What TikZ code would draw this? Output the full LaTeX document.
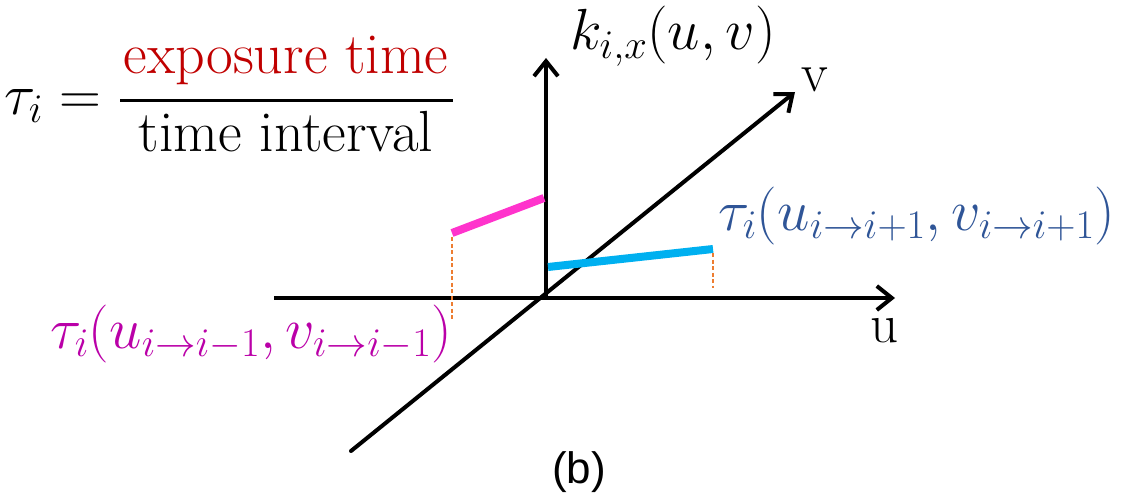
\RequirePackage{fix-cm}
\documentclass[tikz,border=0pt]{standalone}
\usepackage{fontspec}
\newfontfamily\labelsans{Liberation Sans}
\usetikzlibrary{arrows.meta}
\definecolor{magtext}{RGB}{186,0,168}
\definecolor{magline}{RGB}{255,51,204}
\definecolor{cyanline}{RGB}{0,176,240}
\definecolor{bluetext}{RGB}{47,85,151}
\definecolor{redtext}{RGB}{192,0,0}
\definecolor{orangedash}{RGB}{237,125,49}
\begin{document}
\begin{tikzpicture}[x=1pt,y=-1pt,
  axisline/.style={line width=4pt,-{Straight Barb[length=15pt,width=24pt]}},
  seg/.style={line width=8pt,line cap=butt},
  guide/.style={orangedash,line width=1.8pt,dash pattern=on 4pt off 2.5pt},
  bigtext/.style={inner sep=0pt,font=\fontsize{58}{66}\selectfont},
  axtext/.style={inner sep=0pt,font=\fontsize{55}{62}\selectfont},
  mathlab/.style={inner sep=0pt,font=\fontsize{58}{66}\selectfont}]
\useasboundingbox (0,0) rectangle (1125,495);
% coordinates
\coordinate (o) at (546,298);
\coordinate (hstart) at (274,298);
\coordinate (htip) at (895,298);
\coordinate (vtip) at (546,58);
\coordinate (dstart) at (351,451);
\coordinate (dtip) at (795,92);
% axes
\draw[axisline] (hstart) -- (htip);
\draw[axisline] (o) -- (vtip);
\draw[axisline,line cap=round] (dstart) -- (dtip);
% segments
\coordinate (mA) at (452,233);
\coordinate (mB) at (544,198);
\coordinate (cA) at (548,267);
\coordinate (cB) at (713,249);
\draw[seg,magline] (mA) -- (mB);
\draw[seg,cyanline] (cA) -- (cB);
% dashed guides
\coordinate (mA1) at (452,237);
\coordinate (mA2) at (452,320);
\coordinate (cB1) at (713,253);
\coordinate (cB2) at (713,288);
\draw[guide] (mA1) -- (mA2);
\draw[guide] (cB1) -- (cB2);
% labels
\node[mathlab,text=magtext,anchor=base west] (lminus) at (50,348) {$\tau_i(u_{i\to i-1}, v_{i\to i-1})$};
\node[mathlab,text=bluetext,anchor=base west] (lplus) at (718,230) {$\tau_i(u_{i\to i+1}, v_{i\to i+1})$};
\node[inner sep=0pt,font=\fontsize{58}{66}\selectfont,anchor=base west] (klab) at (570,50) {$k_{i,x}(u, v)$};
\node[axtext,anchor=base] (vlab) at (815,92) {v};
\node[axtext,anchor=base] (ulab) at (885,342) {u};
\node[inner sep=0pt,font=\labelsans\fontsize{44}{50}\selectfont,anchor=base] (blab) at (579,483) {(b)};
% formula
\node[bigtext,anchor=base west] (tau) at (4,114) {$\tau_i =$};
\node[bigtext,text=redtext,anchor=base] (num) at (286,74) {exposure time};
\node[bigtext,anchor=base] (den) at (286,151) {time interval};
\coordinate (barL) at (120,100);
\coordinate (barR) at (453,100);
\draw[line width=3pt] (barL) -- (barR);
\end{tikzpicture}
\end{document}
